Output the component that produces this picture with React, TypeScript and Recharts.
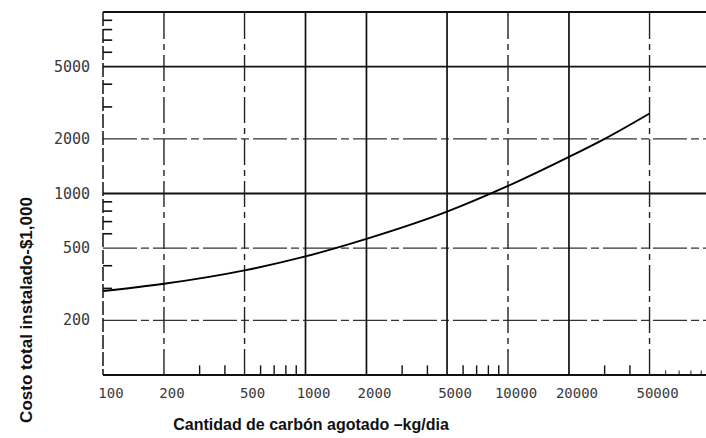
import React from 'react';
import { ComposedChart, Line, XAxis, YAxis, ReferenceLine, Label } from 'recharts';

// Curve values (log-log)
const cantidad = [100, 200, 500, 1000, 2000, 5000, 10000, 20000, 30000, 50000];
const costo = [290, 318, 377, 450, 562, 794, 1100, 1590, 2000, 2760];

const xTicks = [100, 200, 500, 1000, 2000, 5000, 10000, 20000, 50000];
const yTicks = [200, 500, 1000, 2000, 5000];

const solidX = [1000, 2000, 5000, 20000];
const dashedX = [200, 500, 10000, 50000];
const solidY = [5000, 1000];
const dashedY = [2000, 500, 200];

const minorX = [300, 400, 600, 700, 800, 900, 3000, 4000, 6000, 7000, 8000, 9000, 30000, 40000];
const minorXFaint = [60000, 70000, 80000, 90000];
const minorY = [300, 400, 600, 700, 800, 900, 3000, 4000, 6000, 7000, 8000, 9000];

const xTitle = 'Cantidad de carbón agotado –kg/dia';
const yTitle = 'Costo total instalado-$1,000';

const data = cantidad.map((c, i) => ({ x: c, y: costo[i] }));

const tickFont = '"DejaVu Sans Mono", monospace';
const titleFont = '"Liberation Sans", Arial, sans-serif';

const XTick = (props: any) => {
  const { x, y, payload } = props;
  return (
    <text x={x + 8} y={y + 23} textAnchor="middle" fontFamily={tickFont} fontSize={14} fill="#3a3a3a">
      {payload.value}
    </text>
  );
};

const YTick = (props: any) => {
  const { x, y, payload } = props;
  return (
    <text x={x - 13} y={y + 5} textAnchor="end" fontFamily={tickFont} fontSize={15} fill="#3a3a3a">
      {payload.value}
    </text>
  );
};

const XTitle = (props: any) => {
  const vb = props.viewBox || { x: 103, y: 375, width: 603, height: 63 };
  return (
    <text x={vb.x + 208} y={vb.y + 55} textAnchor="middle" fontFamily={titleFont} fontWeight="bold" fontSize={16} fill="#111">
      {xTitle}
    </text>
  );
};

const YTitle = (props: any) => {
  const vb = props.viewBox || { x: 0, y: 12, width: 103, height: 363 };
  const tx = vb.x + 32;
  const ty = vb.y + 298;
  return (
    <text x={tx} y={ty} transform={`rotate(-90, ${tx}, ${ty})`} textAnchor="middle" fontFamily={titleFont} fontWeight="bold" fontSize={17} fill="#111">
      {yTitle}
    </text>
  );
};

export default function App() {
  return (
    <div style={{ position: 'absolute', left: 0, top: 0, background: '#fff' }}>
      <ComposedChart width={706} height={438} data={data} margin={{ top: 12, right: 0, bottom: 0, left: 0 }}>
        <XAxis
          dataKey="x"
          type="number"
          scale="log"
          domain={[100, 95000]}
          ticks={xTicks}
          allowDataOverflow
          height={63}
          tickLine={false}
          tickSize={0}
          tickMargin={0}
          tick={<XTick />}
          axisLine={{ stroke: '#111', strokeWidth: 1.8 }}
          interval={0}
        >
          <Label content={<XTitle />} />
        </XAxis>
        <YAxis
          dataKey="y"
          type="number"
          scale="log"
          domain={[100, 10000]}
          ticks={yTicks}
          allowDataOverflow
          width={103}
          tickLine={false}
          tickSize={0}
          tickMargin={0}
          tick={<YTick />}
          axisLine={{ stroke: '#111', strokeWidth: 1.5, strokeDasharray: '14 3' }}
          interval={0}
        >
          <Label content={<YTitle />} />
        </YAxis>

        <ReferenceLine y={10000} stroke="#111" strokeWidth={2} />
        {solidY.map((v) => (
          <ReferenceLine key={'sy' + v} y={v} stroke="#111" strokeWidth={1.8} />
        ))}
        {dashedY.map((v) => (
          <ReferenceLine key={'dy' + v} y={v} stroke="#333" strokeWidth={1.3} strokeDasharray="34 4 8 4" />
        ))}
        {solidX.map((v) => (
          <ReferenceLine key={'sx' + v} x={v} stroke="#111" strokeWidth={1.7} />
        ))}
        {dashedX.map((v) => (
          <ReferenceLine key={'dx' + v} x={v} stroke="#222" strokeWidth={1.4} strokeDasharray="26 5 6 5" />
        ))}
        {minorX.map((v) => (
          <ReferenceLine key={'mx' + v} segment={[{ x: v, y: 100 }, { x: v, y: 113 }]} stroke="#111" strokeWidth={1.4} />
        ))}
        {minorXFaint.map((v) => (
          <ReferenceLine key={'mf' + v} segment={[{ x: v, y: 100 }, { x: v, y: 106 }]} stroke="#444" strokeWidth={1.2} />
        ))}
        {minorY.map((v) => (
          <ReferenceLine key={'my' + v} segment={[{ x: 100, y: v }, { x: 111, y: v }]} stroke="#111" strokeWidth={1.6} />
        ))}

        <Line
          type="monotone"
          dataKey="y"
          stroke="#000"
          strokeWidth={1.9}
          dot={false}
          isAnimationActive={false}
        />
      </ComposedChart>
    </div>
  );
}
